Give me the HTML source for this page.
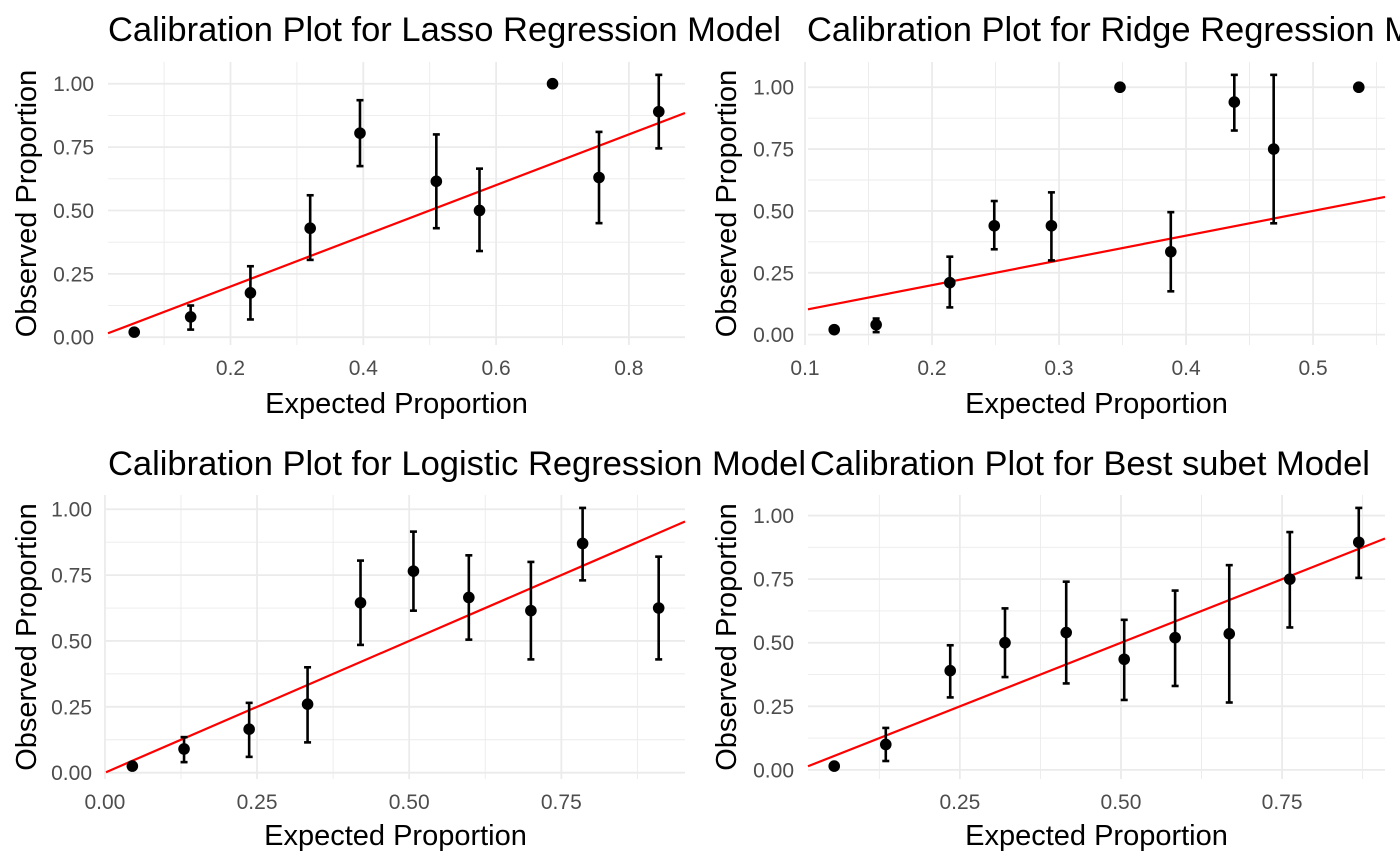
<!DOCTYPE html>
<html><head><meta charset="utf-8"><style>
html,body{margin:0;padding:0;background:#fff;overflow:hidden}
svg{display:block;font-family:"Liberation Sans",Arial,sans-serif}
</style></head><body>
<svg id="chart" width="1400" height="865" viewBox="0 0 1400 865" xmlns="http://www.w3.org/2000/svg"></svg>
<script>
// Lasso
const lassoX=[0.055,0.14,0.23,0.32,0.395,0.51,0.575,0.685,0.755,0.845];
const lassoY=[0.02,0.08,0.175,0.43,0.805,0.615,0.50,1.0,0.63,0.89];
const lassoLo=[null,0.03,0.07,0.305,0.675,0.43,0.34,null,0.45,0.745];
const lassoHi=[null,0.125,0.28,0.56,0.935,0.80,0.665,null,0.81,1.035];
// Ridge
const ridgeX=[0.123,0.156,0.214,0.249,0.294,0.348,0.388,0.438,0.469,0.536];
const ridgeY=[0.02,0.04,0.21,0.44,0.44,1.0,0.335,0.94,0.75,1.0];
const ridgeLo=[0.01,0.01,0.11,0.345,0.30,null,0.175,0.825,0.45,null];
const ridgeHi=[0.03,0.065,0.315,0.54,0.575,null,0.495,1.05,1.05,null];
// Logistic
const logX=[0.045,0.13,0.237,0.333,0.42,0.507,0.598,0.70,0.785,0.91];
const logY=[0.025,0.09,0.165,0.26,0.645,0.765,0.665,0.615,0.87,0.625];
const logLo=[null,0.04,0.06,0.115,0.485,0.615,0.505,0.43,0.73,0.43];
const logHi=[null,0.135,0.265,0.40,0.805,0.915,0.825,0.80,1.005,0.82];
// Best subset
const bestX=[0.055,0.135,0.235,0.32,0.415,0.505,0.584,0.668,0.762,0.869];
const bestY=[0.015,0.10,0.39,0.50,0.54,0.435,0.52,0.535,0.75,0.895];
const bestLo=[null,0.035,0.285,0.365,0.34,0.275,0.33,0.265,0.56,0.755];
const bestHi=[null,0.165,0.49,0.635,0.74,0.59,0.705,0.805,0.935,1.03];
const yTicks=[0,0.25,0.5,0.75,1.0];
const yTickLabels=["0.00","0.25","0.50","0.75","1.00"];

const panels=[
 {name:"lasso",title:"Calibration Plot for Lasso Regression Model",tx:108,ty:41,rect:[108,62,685,345],
  xt:[0.2,0.4,0.6,0.8],xl:["0.2","0.4","0.6","0.8"],xm:[0.1,0.3,0.5,0.7,0.9],X:lassoX,Y:lassoY,L:lassoLo,H:lassoHi,xlabY:413,ylabX:36},
 {name:"ridge",title:"Calibration Plot for Ridge Regression Model",tx:807,ty:41,rect:[808,62,1385,345],
  xt:[0.1,0.2,0.3,0.4,0.5],xl:["0.1","0.2","0.3","0.4","0.5"],xm:[0.15,0.25,0.35,0.45,0.55],X:ridgeX,Y:ridgeY,L:ridgeLo,H:ridgeHi,xlabY:413,ylabX:736},
 {name:"logistic",title:"Calibration Plot for Logistic Regression Model",tx:108,ty:475,rect:[106,495,685,779],
  xt:[0,0.25,0.5,0.75],xl:["0.00","0.25","0.50","0.75"],xm:[0.125,0.375,0.625,0.875],X:logX,Y:logY,L:logLo,H:logHi,xlabY:845,ylabX:36},
 {name:"best-subset",title:"Calibration Plot for Best subet Model",tx:810,ty:475,rect:[808,495,1385,779],
  xt:[0.25,0.5,0.75],xl:["0.25","0.50","0.75"],xm:[0.125,0.375,0.625,0.875],X:bestX,Y:bestY,L:bestLo,H:bestHi,xlabY:845,ylabX:736}
];
const NS="http://www.w3.org/2000/svg";
const svg=document.getElementById('chart');
function mk(tag,attrs,parent,text){const e=document.createElementNS(NS,tag);for(const k in attrs)e.setAttribute(k,attrs[k]);if(text!==undefined)e.textContent=text;parent.appendChild(e);return e;}
function ext(arrs){let mn=Infinity,mx=-Infinity;arrs.forEach(a=>a.forEach(v=>{if(v!==null){mn=Math.min(mn,v);mx=Math.max(mx,v);}}));const d=(mx-mn)*0.05;return [mn-d,mx+d];}
panels.forEach(p=>{
 const [l,t,r,b]=p.rect;
 const xd=ext([p.X]);
 const yd=ext([p.Y,p.L,p.H]);
 const sx=v=>l+(v-xd[0])/(xd[1]-xd[0])*(r-l);
 const sy=v=>b-(v-yd[0])/(yd[1]-yd[0])*(b-t);
 const g=mk('g',{},svg);
 
 
 const ym=[0.125,0.375,0.625,0.875];
 ym.forEach(v=>{const e=mk('line',{x1:l,x2:r,y1:sy(v),y2:sy(v),stroke:'#ebebeb','stroke-width':0.9},g);});
 p.xm.forEach(v=>{if(v<xd[0]||v>xd[1])return;const e=mk('line',{x1:sx(v),x2:sx(v),y1:t,y2:b,stroke:'#ebebeb','stroke-width':0.9},g);});
 yTicks.forEach((v,i)=>{
  const e=mk('line',{x1:l,x2:r,y1:sy(v),y2:sy(v),stroke:'#ebebeb','stroke-width':1.8},g);
  
  const tl=mk('text',{x:l-14,y:sy(v)+7.5,'text-anchor':'end','font-size':21,fill:'#4d4d4d'},g,yTickLabels[i]);
  
 });
 p.xt.forEach((v,i)=>{
  const e=mk('line',{x1:sx(v),x2:sx(v),y1:t,y2:b,stroke:'#ebebeb','stroke-width':1.8},g);
  
  const tl=mk('text',{x:sx(v),y:b+30,'text-anchor':'middle','font-size':21,fill:'#4d4d4d'},g,p.xl[i]);
  
 });
 const rl=mk('line',{x1:l,y1:sy(xd[0]),x2:r,y2:sy(xd[1]),stroke:'#ff0000','stroke-width':2.2},g);
 
 p.X.forEach((x,i)=>{
  if(p.L[i]!==null){
   const eg=mk('g',{stroke:'#000','stroke-width':2.6},g);
   
   const cx=sx(x);
   mk('line',{x1:cx,x2:cx,y1:sy(p.L[i]),y2:sy(p.H[i])},eg);
   mk('line',{x1:cx-3.5,x2:cx+3.5,y1:sy(p.L[i]),y2:sy(p.L[i])},eg);
   mk('line',{x1:cx-3.5,x2:cx+3.5,y1:sy(p.H[i]),y2:sy(p.H[i])},eg);
  }
  const c=mk('circle',{cx:sx(x),cy:sy(p.Y[i]),r:5.8,fill:'#000'},g);
  
 });
 const ti=mk('text',{x:p.tx,y:p.ty,'font-size':34.5,fill:'#000'},g,p.title);
 
 const xa=mk('text',{x:(l+r)/2,y:p.xlabY,'text-anchor':'middle','font-size':29,fill:'#000'},g,'Expected Proportion');
 
 const yc=(t+b)/2, yx=p.ylabX;
 const ya=mk('text',{x:yx,y:yc,'text-anchor':'middle','font-size':29,fill:'#000',transform:`rotate(-90 ${yx} ${yc})`},g,'Observed Proportion');
 
});
</script>
</body></html>
